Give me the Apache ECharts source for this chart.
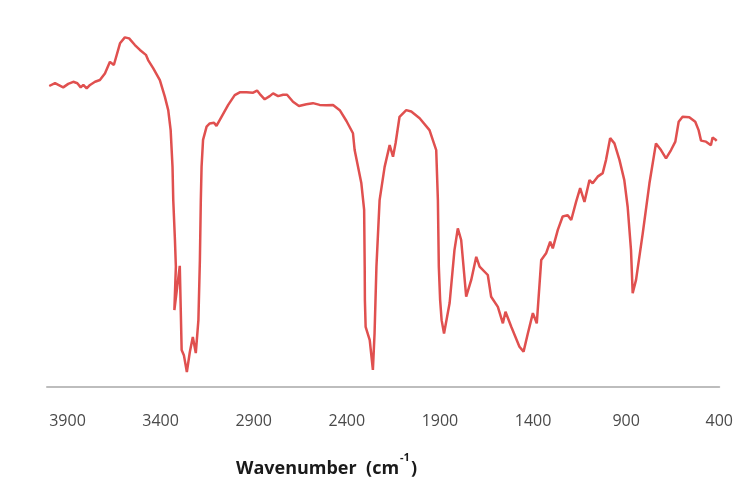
<!DOCTYPE html>
<html>
<head>
<meta charset="utf-8">
<script src="https://cdn.jsdelivr.net/npm/echarts@6/dist/echarts.min.js"></script>
<style>html,body{margin:0;padding:0;background:#fff}#c{width:736px;height:482px}</style>
</head>
<body>
<div id="c"></div>
<script>
// Wavenumber (cm-1) and relative transmittance (%)
var wavenumbers = [3998,3967,3949,3923,3896,3869,3847,3829,3815,3797,3779,3752,3726,3699,3672,3663,3651,3618,3592,3569,3538,3511,3479,3467,3440,3404,3377,3359,3346,3336,3332,3323,3318,3326,3297,3287,3275,3259,3243,3227,3211,3197,3189,3184,3180,3172,3153,3136,3113,3100,3073,3037,3002,2975,2939,2903,2882,2867,2841,2814,2796,2769,2742,2721,2689,2657,2617,2582,2546,2510,2474,2438,2402,2367,2358,2322,2307,2304,2303,2299,2277,2260,2251,2241,2224,2197,2170,2152,2138,2117,2081,2054,2009,1956,1920,1911,1906,1899,1891,1878,1848,1822,1804,1786,1759,1732,1705,1687,1643,1625,1589,1562,1548,1517,1473,1451,1428,1401,1380,1356,1330,1308,1294,1267,1241,1214,1195,1169,1147,1124,1097,1080,1053,1026,1008,986,963,936,910,892,874,865,847,811,775,740,713,686,659,636,618,597,561,529,511,498,471,445,436,423,414];
var transmittance = [86.0,86.8,86.3,85.6,86.6,87.2,86.8,85.6,86.3,85.3,86.3,87.2,87.7,89.6,92.9,93.4,92.0,98.2,99.9,99.6,97.7,96.3,94.9,93.4,91.1,87.7,82.9,79.1,73.4,62.9,53.4,42.0,34.4,22.0,34.6,10.6,9.1,4.3,10.0,14.3,9.7,19.1,36.3,53.4,62.9,70.6,74.4,75.3,75.5,74.6,77.2,80.6,83.4,84.2,84.2,84.1,84.7,83.7,82.2,83.1,83.9,83.1,83.5,83.5,81.5,80.3,80.8,81.1,80.6,80.5,80.6,79.1,76.0,72.5,67.7,58.2,50.6,34.4,24.9,17.2,13.4,4.9,15.4,34.4,53.4,62.9,69.1,65.8,69.7,77.2,79.1,78.7,76.8,73.4,67.7,53.4,34.4,24.9,19.1,15.3,24.0,39.1,45.3,42.0,25.8,30.6,37.2,34.4,32.0,25.8,22.9,18.2,21.5,17.2,11.5,10.1,15.3,21.1,18.2,36.3,38.2,41.5,39.6,44.9,48.7,49.1,47.7,52.9,56.8,52.9,59.1,58.2,60.1,61.1,64.9,71.1,69.6,64.9,59.1,51.5,39.1,26.8,30.6,43.9,58.2,69.6,67.7,65.3,67.7,70.1,75.8,77.2,77.1,75.8,73.4,70.4,70.1,69.1,71.3,70.8,70.3];
var tickLabels = [3900,3400,2900,2400,1900,1400,900,400];

var points = wavenumbers.map(function (w, i) { return [w, transmittance[i]]; });

var chart = echarts.init(document.getElementById('c'));
chart.setOption({
  animation: false,
  backgroundColor: '#ffffff',
  title: {
    text: '{a|Wavenumber  (cm}{s|-1}{a|)}',
    left: 231,
    top: 447,
    textStyle: {
      rich: {
        a: { fontFamily: 'Open Sans', fontWeight: 'bold', fontSize: 18, color: '#1a1a1a', lineHeight: 26, verticalAlign: 'bottom' },
        s: { fontFamily: 'Open Sans', fontWeight: 'bold', fontSize: 11, color: '#1a1a1a', lineHeight: 26, verticalAlign: 'top', padding: [0, 1, 0, 1] }
      }
    }
  },
  grid: { left: 47, right: 16, top: 37, bottom: 95 },
  xAxis: {
    type: 'value',
    inverse: true,
    min: 400,
    max: 4010,
    interval: 500,
    axisLine: { show: true, lineStyle: { color: '#bdbdbd', width: 2 } },
    axisTick: { show: false },
    splitLine: { show: false },
    axisLabel: {
      margin: 26,
      fontFamily: 'Open Sans',
      fontSize: 16,
      color: '#4a4a4a',
      showMaxLabel: false,
      formatter: function (v) { return tickLabels.indexOf(v) >= 0 ? String(v) : ''; }
    }
  },
  yAxis: {
    type: 'value',
    min: 0,
    max: 100,
    show: false
  },
  series: [{
    type: 'line',
    data: points,
    showSymbol: false,
    smooth: false,
    lineStyle: { color: '#e0504f', width: 2.5 },
    itemStyle: { color: '#e0504f' }
  }]
});
</script>
</body>
</html>
